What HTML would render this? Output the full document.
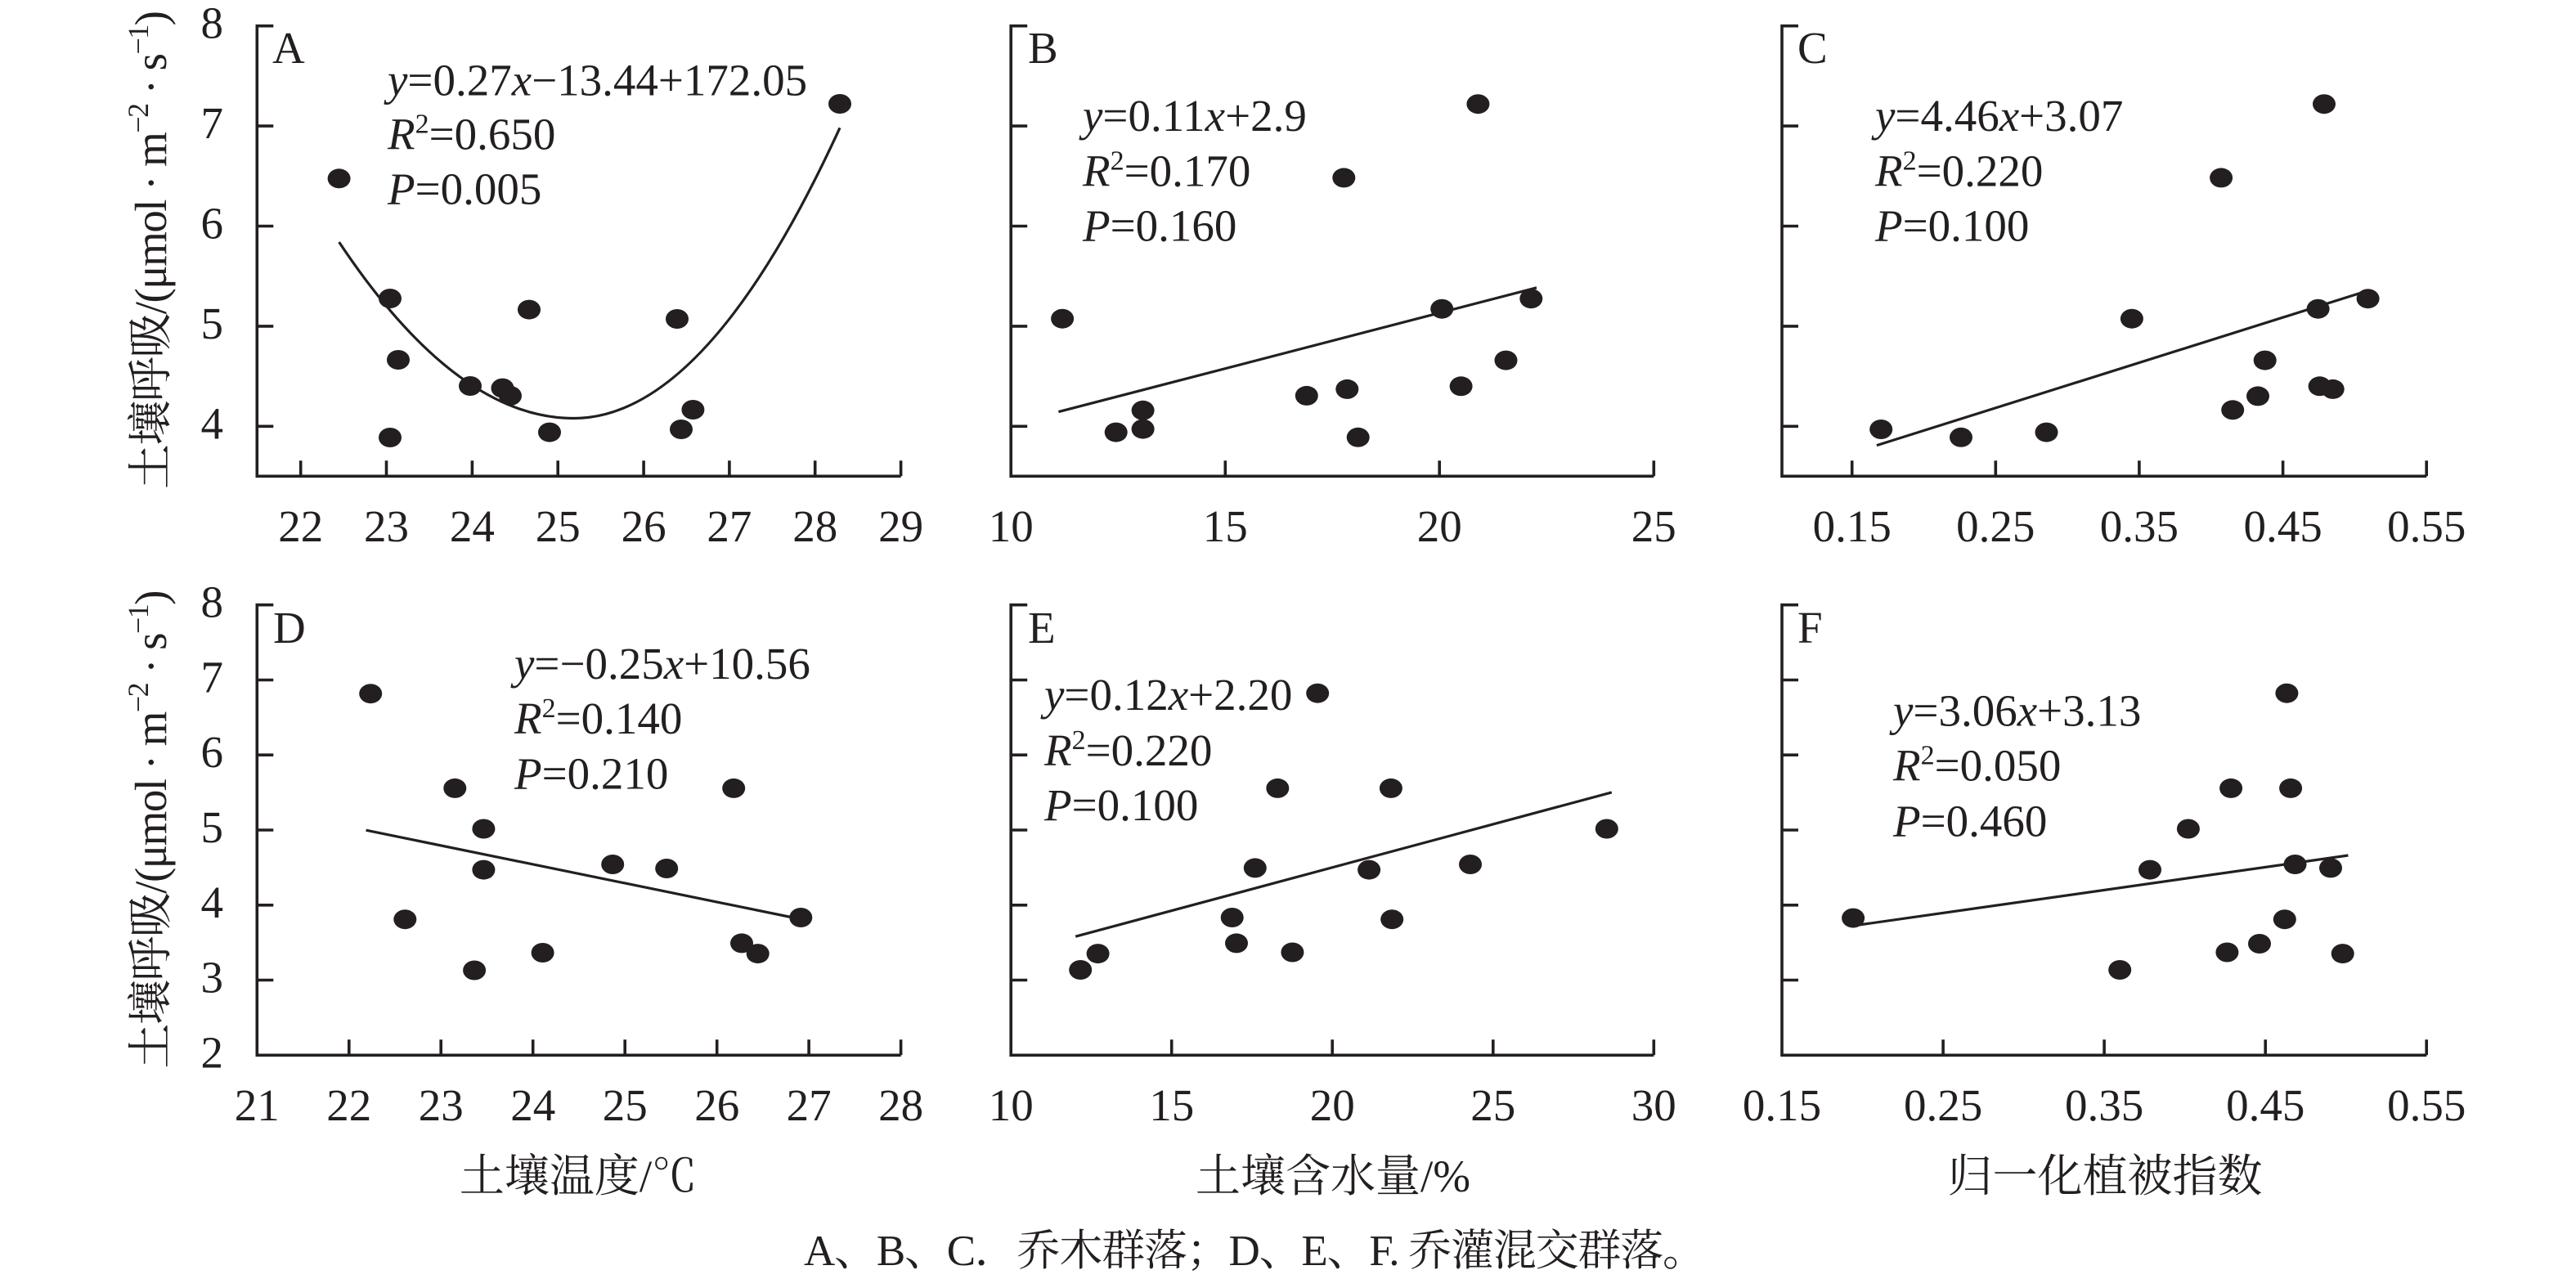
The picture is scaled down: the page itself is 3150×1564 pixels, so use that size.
<!DOCTYPE html>
<html><head><meta charset="utf-8"><style>html,body{margin:0;padding:0;background:#fff}svg{display:block}</style></head>
<body>
<svg width="3150" height="1564" viewBox="0 0 3150 1564" xmlns="http://www.w3.org/2000/svg" font-family="'Liberation Serif','Noto Serif CJK SC',serif" fill="#231f20">
<rect width="3150" height="1564" fill="#fff"/>
<g stroke="#231f20" stroke-width="3.6" fill="none" stroke-linecap="butt">
<!-- Panel A axes -->
<path d="M334.3 31.7H314.3V582.3H1101.6"/>
<path d="M314.3 154.1h20M314.3 276.5h20M314.3 398.9h20M314.3 521.3h20"/>
<path d="M367.7 582.3v-19M472.5 582.3v-19M577.4 582.3v-19M682.2 582.3v-19M787.1 582.3v-19M891.9 582.3v-19M996.7 582.3v-19M1101.6 582.3v-19"/>
<!-- Panel B axes -->
<path d="M1256.2 31.7H1236.2V582.3H2022.3"/>
<path d="M1236.2 154.1h20M1236.2 276.5h20M1236.2 398.9h20M1236.2 521.3h20"/>
<path d="M1498.3 582.3v-19M1760.2 582.3v-19M2022.3 582.3v-19"/>
<!-- Panel C axes -->
<path d="M2199 31.7H2179V582.3H2967.2"/>
<path d="M2179 154.1h20M2179 276.5h20M2179 398.9h20M2179 521.3h20"/>
<path d="M2264.7 582.3v-19M2440.3 582.3v-19M2615.9 582.3v-19M2791.6 582.3v-19M2967.2 582.3v-19"/>
<!-- Panel D axes -->
<path d="M334.3 739.7H314.3V1290.3H1101.6"/>
<path d="M314.3 831.5h20M314.3 923.2h20M314.3 1015h20M314.3 1106.8h20M314.3 1198.5h20"/>
<path d="M426.8 1290.3v-19M539.2 1290.3v-19M651.7 1290.3v-19M764.2 1290.3v-19M876.7 1290.3v-19M989.1 1290.3v-19M1101.6 1290.3v-19"/>
<!-- Panel E axes -->
<path d="M1256.2 739.7H1236.2V1290.3H2022.3"/>
<path d="M1236.2 831.5h20M1236.2 923.2h20M1236.2 1015h20M1236.2 1106.8h20M1236.2 1198.5h20"/>
<path d="M1432.7 1290.3v-19M1629.2 1290.3v-19M1825.8 1290.3v-19M2022.3 1290.3v-19"/>
<!-- Panel F axes -->
<path d="M2199 739.7H2179V1290.3H2967.2"/>
<path d="M2179 831.5h20M2179 923.2h20M2179 1015h20M2179 1106.8h20M2179 1198.5h20"/>
<path d="M2376.1 1290.3v-19M2573.1 1290.3v-19M2770.2 1290.3v-19M2967.2 1290.3v-19"/>
</g>
<!-- fit lines -->
<g stroke="#231f20" stroke-width="3.2" fill="none" stroke-linejoin="round">
<path d="M414.6 296Q558 511.5 701.5 511.5Q864.25 511.5 1027 156.3"/>
<line x1="1294.4" y1="503.6" x2="1879" y2="351.8"/>
<line x1="2294.9" y1="544.6" x2="2890.2" y2="357.1"/>
<line x1="447.6" y1="1015.2" x2="969.5" y2="1122"/>
<line x1="1315.2" y1="1145.2" x2="1970.8" y2="968.9"/>
<line x1="2262.7" y1="1132.5" x2="2871.4" y2="1046"/>
</g>
<!-- dots -->
<g fill="#231f20">
<ellipse cx="414.6" cy="218.3" rx="14" ry="12"/><ellipse cx="477" cy="365" rx="14" ry="12"/><ellipse cx="487" cy="440" rx="14" ry="12"/><ellipse cx="477" cy="535" rx="14" ry="12"/><ellipse cx="575" cy="472" rx="14" ry="12"/><ellipse cx="614.5" cy="474.6" rx="14" ry="12"/><ellipse cx="624" cy="484" rx="14" ry="12"/><ellipse cx="647" cy="378.6" rx="14" ry="12"/><ellipse cx="672" cy="528.6" rx="14" ry="12"/><ellipse cx="828" cy="390" rx="14" ry="12"/><ellipse cx="833" cy="525" rx="14" ry="12"/><ellipse cx="847.4" cy="501" rx="14" ry="12"/><ellipse cx="1027" cy="127" rx="14" ry="12"/>

<ellipse cx="1299.1" cy="389.7" rx="14" ry="12"/><ellipse cx="1364.7" cy="528.6" rx="14" ry="12"/><ellipse cx="1397.6" cy="501.8" rx="14" ry="12"/><ellipse cx="1397.6" cy="524.6" rx="14" ry="12"/><ellipse cx="1597.8" cy="483.9" rx="14" ry="12"/><ellipse cx="1647.3" cy="475.9" rx="14" ry="12"/><ellipse cx="1643.3" cy="217.4" rx="14" ry="12"/><ellipse cx="1660.7" cy="534.8" rx="14" ry="12"/><ellipse cx="1807.4" cy="127.2" rx="14" ry="12"/><ellipse cx="1763.2" cy="377.7" rx="14" ry="12"/><ellipse cx="1786.6" cy="472.3" rx="14" ry="12"/><ellipse cx="1841.5" cy="440.6" rx="14" ry="12"/><ellipse cx="1872.3" cy="365.2" rx="14" ry="12"/>

<ellipse cx="2300.2" cy="525" rx="14" ry="12"/><ellipse cx="2398" cy="534.8" rx="14" ry="12"/><ellipse cx="2502.5" cy="528.6" rx="14" ry="12"/><ellipse cx="2606.9" cy="389.7" rx="14" ry="12"/><ellipse cx="2716.1" cy="217.4" rx="14" ry="12"/><ellipse cx="2842" cy="127.2" rx="14" ry="12"/><ellipse cx="2730.2" cy="501.3" rx="14" ry="12"/><ellipse cx="2761" cy="484.4" rx="14" ry="12"/><ellipse cx="2769.7" cy="440.6" rx="14" ry="12"/><ellipse cx="2834.6" cy="377.7" rx="14" ry="12"/><ellipse cx="2836.6" cy="472.3" rx="14" ry="12"/><ellipse cx="2852.7" cy="475.9" rx="14" ry="12"/><ellipse cx="2895.6" cy="365.2" rx="14" ry="12"/>

<ellipse cx="453.2" cy="848.2" rx="14" ry="12"/><ellipse cx="495.3" cy="1124.2" rx="14" ry="12"/><ellipse cx="556.3" cy="963.9" rx="14" ry="12"/><ellipse cx="591.4" cy="1013.5" rx="14" ry="12"/><ellipse cx="591.4" cy="1063.6" rx="14" ry="12"/><ellipse cx="580.1" cy="1186.5" rx="14" ry="12"/><ellipse cx="663.6" cy="1165" rx="14" ry="12"/><ellipse cx="749.2" cy="1057" rx="14" ry="12"/><ellipse cx="815.2" cy="1062" rx="14" ry="12"/><ellipse cx="897.2" cy="963.9" rx="14" ry="12"/><ellipse cx="907" cy="1153.4" rx="14" ry="12"/><ellipse cx="926.7" cy="1166.1" rx="14" ry="12"/><ellipse cx="979.3" cy="1122" rx="14" ry="12"/>

<ellipse cx="1611.2" cy="847.7" rx="14" ry="12"/><ellipse cx="1562.3" cy="963.9" rx="14" ry="12"/><ellipse cx="1700.9" cy="963.9" rx="14" ry="12"/><ellipse cx="1964.8" cy="1013.5" rx="14" ry="12"/><ellipse cx="1534.8" cy="1061.4" rx="14" ry="12"/><ellipse cx="1674.1" cy="1063.6" rx="14" ry="12"/><ellipse cx="1798" cy="1057" rx="14" ry="12"/><ellipse cx="1506.7" cy="1122" rx="14" ry="12"/><ellipse cx="1702.2" cy="1124.2" rx="14" ry="12"/><ellipse cx="1512" cy="1153.4" rx="14" ry="12"/><ellipse cx="1580.4" cy="1164.5" rx="14" ry="12"/><ellipse cx="1342.6" cy="1166.1" rx="14" ry="12"/><ellipse cx="1321.2" cy="1186" rx="14" ry="12"/>

<ellipse cx="2266.1" cy="1122.6" rx="14" ry="12"/><ellipse cx="2592.2" cy="1186" rx="14" ry="12"/><ellipse cx="2629" cy="1063.6" rx="14" ry="12"/><ellipse cx="2675.9" cy="1013.5" rx="14" ry="12"/><ellipse cx="2728.1" cy="963.9" rx="14" ry="12"/><ellipse cx="2796.4" cy="847.7" rx="14" ry="12"/><ellipse cx="2801.1" cy="963.9" rx="14" ry="12"/><ellipse cx="2806.5" cy="1057" rx="14" ry="12"/><ellipse cx="2850" cy="1061.4" rx="14" ry="12"/><ellipse cx="2793.8" cy="1124.2" rx="14" ry="12"/><ellipse cx="2763" cy="1154" rx="14" ry="12"/><ellipse cx="2723.4" cy="1164.5" rx="14" ry="12"/><ellipse cx="2864.7" cy="1166.1" rx="14" ry="12"/>
</g>

<g font-size="55">
<g text-anchor="end">
<text x="273" y="46.7">8</text><text x="273" y="169.1">7</text><text x="273" y="291.5">6</text><text x="273" y="413.9">5</text><text x="273" y="536.3">4</text>
<text x="273" y="754.7">8</text><text x="273" y="846.5">7</text><text x="273" y="938.2">6</text><text x="273" y="1030">5</text><text x="273" y="1121.8">4</text><text x="273" y="1213.5">3</text><text x="273" y="1305.3">2</text>
</g>
<g text-anchor="middle">
<text x="367.7" y="662">22</text><text x="472.5" y="662">23</text><text x="577.4" y="662">24</text><text x="682.2" y="662">25</text><text x="787.1" y="662">26</text><text x="891.9" y="662">27</text><text x="996.7" y="662">28</text><text x="1101.6" y="662">29</text>
<text x="1236.2" y="662">10</text><text x="1498.3" y="662">15</text><text x="1760.2" y="662">20</text><text x="2022.3" y="662">25</text>
<text x="2264.7" y="662">0.15</text><text x="2440.3" y="662">0.25</text><text x="2615.9" y="662">0.35</text><text x="2791.6" y="662">0.45</text><text x="2967.2" y="662">0.55</text>
<text x="314.3" y="1370">21</text><text x="426.8" y="1370">22</text><text x="539.2" y="1370">23</text><text x="651.7" y="1370">24</text><text x="764.2" y="1370">25</text><text x="876.7" y="1370">26</text><text x="989.1" y="1370">27</text><text x="1101.6" y="1370">28</text>
<text x="1236.2" y="1370">10</text><text x="1432.7" y="1370">15</text><text x="1629.2" y="1370">20</text><text x="1825.8" y="1370">25</text><text x="2022.3" y="1370">30</text>
<text x="2179" y="1370">0.15</text><text x="2376.1" y="1370">0.25</text><text x="2573.1" y="1370">0.35</text><text x="2770.2" y="1370">0.45</text><text x="2967.2" y="1370">0.55</text>
</g>
<text x="333" y="77">A</text><text x="1257" y="77">B</text><text x="2198" y="77">C</text>
<text x="334" y="786">D</text><text x="1257" y="786">E</text><text x="2198" y="786">F</text>

<text x="474" y="116.7"><tspan font-style="italic">y</tspan>=0.27<tspan font-style="italic">x</tspan>−13.44+172.05</text>
<text x="474" y="182.7"><tspan font-style="italic">R</tspan><tspan font-size="34" dy="-20">2</tspan><tspan dy="20">=0.650</tspan></text>
<text x="474" y="249.3"><tspan font-style="italic">P</tspan>=0.005</text>

<text x="1324" y="160"><tspan font-style="italic">y</tspan>=0.11<tspan font-style="italic">x</tspan>+2.9</text>
<text x="1324" y="227.7"><tspan font-style="italic">R</tspan><tspan font-size="34" dy="-20">2</tspan><tspan dy="20">=0.170</tspan></text>
<text x="1324" y="294.6"><tspan font-style="italic">P</tspan>=0.160</text>

<text x="2293" y="160"><tspan font-style="italic">y</tspan>=4.46<tspan font-style="italic">x</tspan>+3.07</text>
<text x="2293" y="227.7"><tspan font-style="italic">R</tspan><tspan font-size="34" dy="-20">2</tspan><tspan dy="20">=0.220</tspan></text>
<text x="2293" y="294.6"><tspan font-style="italic">P</tspan>=0.100</text>

<text x="629" y="830"><tspan font-style="italic">y</tspan>=−0.25<tspan font-style="italic">x</tspan>+10.56</text>
<text x="629" y="897.2"><tspan font-style="italic">R</tspan><tspan font-size="34" dy="-20">2</tspan><tspan dy="20">=0.140</tspan></text>
<text x="629" y="964.5"><tspan font-style="italic">P</tspan>=0.210</text>

<text x="1277" y="868"><tspan font-style="italic">y</tspan>=0.12<tspan font-style="italic">x</tspan>+2.20</text>
<text x="1277" y="935.8"><tspan font-style="italic">R</tspan><tspan font-size="34" dy="-20">2</tspan><tspan dy="20">=0.220</tspan></text>
<text x="1277" y="1003"><tspan font-style="italic">P</tspan>=0.100</text>

<text x="2315" y="887.3"><tspan font-style="italic">y</tspan>=3.06<tspan font-style="italic">x</tspan>+3.13</text>
<text x="2315" y="954.5"><tspan font-style="italic">R</tspan><tspan font-size="34" dy="-20">2</tspan><tspan dy="20">=0.050</tspan></text>
<text x="2315" y="1022.3"><tspan font-style="italic">P</tspan>=0.460</text>

<text transform="translate(203,305.5) rotate(-90)" text-anchor="middle" textLength="585" lengthAdjust="spacing">土壤呼吸/(μmol · m<tspan font-size="36" dy="-22">−2</tspan><tspan dy="22"> · s</tspan><tspan font-size="36" dy="-22">−1</tspan><tspan dy="22">)</tspan></text>
<text transform="translate(203,1014) rotate(-90)" text-anchor="middle" textLength="585" lengthAdjust="spacing">土壤呼吸/(μmol · m<tspan font-size="36" dy="-22">−2</tspan><tspan dy="22"> · s</tspan><tspan font-size="36" dy="-22">−1</tspan><tspan dy="22">)</tspan></text>

<g text-anchor="middle">
<text x="707" y="1457">土壤温度/℃</text>
<text x="1630" y="1457">土壤含水量/%</text>
<text x="2574" y="1457">归一化植被指数</text>
</g>
</g>
<text x="983" y="1547" font-size="53" textLength="1103" lengthAdjust="spacing">A、B、C．乔木群落；D、E、F. 乔灌混交群落。</text>
</svg>
</body></html>
